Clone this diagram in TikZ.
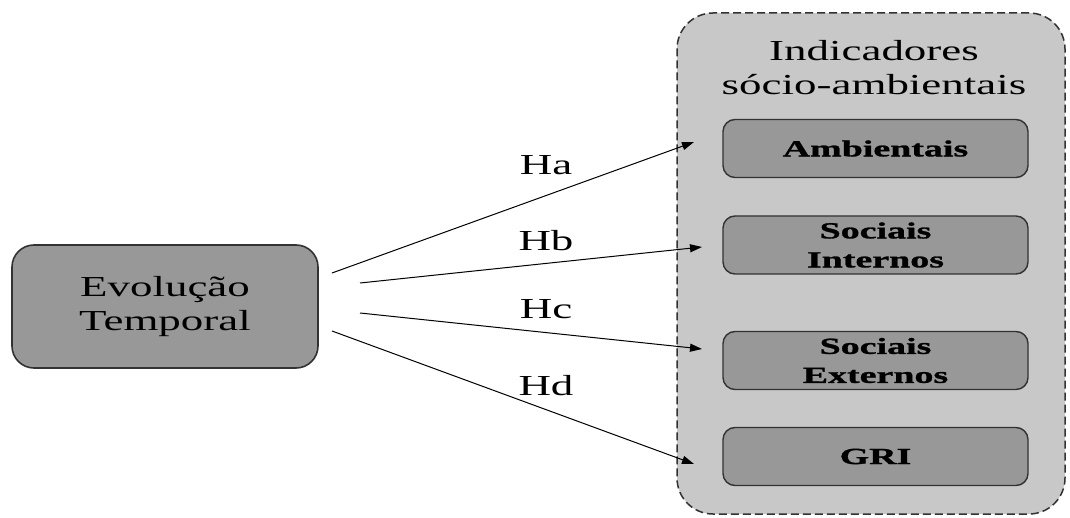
\documentclass[tikz,border=0pt]{standalone}
\usepackage{fontspec}
\setmainfont{Liberation Serif}[FakeStretch=1.55]
\newfontfamily\heavyserif{Liberation Serif}[FakeStretch=1.65, BoldFeatures={FakeBold=1.2}]
\usetikzlibrary{arrows.meta}
\definecolor{boxgray}{RGB}{152,152,152}
\definecolor{panelgray}{RGB}{200,200,200}
\definecolor{edgegray}{RGB}{50,50,50}
\tikzset{
  bigtext/.style={font=\fontsize{29}{34}\selectfont, align=center},
  smalltext/.style={font=\heavyserif\fontsize{23}{29}\selectfont\bfseries, align=center},
  mainbox/.style={draw=edgegray, line width=1.6pt, fill=boxgray, rounded corners=22pt,
    minimum width=306pt, minimum height=123pt, bigtext},
  panel/.style={draw=edgegray, line width=1.5pt, dash pattern=on 8pt off 4pt,
    fill=panelgray, rounded corners=36pt, minimum width=388pt, minimum height=501pt},
  itembox/.style={draw=edgegray, line width=1.4pt, fill=boxgray, rounded corners=12pt,
    minimum width=305pt, minimum height=58pt, smalltext},
  link/.style={line width=1pt, -{Triangle[length=12pt, width=8pt]}},
  hyp/.style={bigtext}
}
\begin{document}
\begin{tikzpicture}[x=1pt, y=-1pt]
\useasboundingbox[fill=white] (0,0) rectangle (1070,518);

% source box
\node[mainbox] (evo) at (165,306.5) {Evolução\\Temporal};

% indicator panel with its four groups
\node[panel] (panel) at (871,263.5) {};
\node[bigtext] (title) at (874,68) {Indicadores\\sócio-ambientais};
\node[itembox] (amb) at (875.5,148.5) {Ambientais};
\node[itembox] (sint) at (875.5,245) {Sociais\\Internos};
\node[itembox] (sext) at (875.5,360.5) {Sociais\\Externos};
\node[itembox] (gri) at (875.5,456.5) {GRI};

% arrow end points
\coordinate (sa) at (332,273);
\coordinate (sb) at (360,283);
\coordinate (sc) at (360,313);
\coordinate (sd) at (332,331);
\coordinate (ea) at (694,142);
\coordinate (eb) at (702,247);
\coordinate (ec) at (702,349);
\coordinate (ed) at (694,464);

\draw[link] (sa) -- (ea);
\draw[link] (sb) -- (eb);
\draw[link] (sc) -- (ec);
\draw[link] (sd) -- (ed);

% hypothesis labels
\node[hyp] (ha) at (546,165) {Ha};
\node[hyp] (hb) at (546,241) {Hb};
\node[hyp] (hc) at (546,309) {Hc};
\node[hyp] (hd) at (546,386) {Hd};
\end{tikzpicture}
\end{document}
